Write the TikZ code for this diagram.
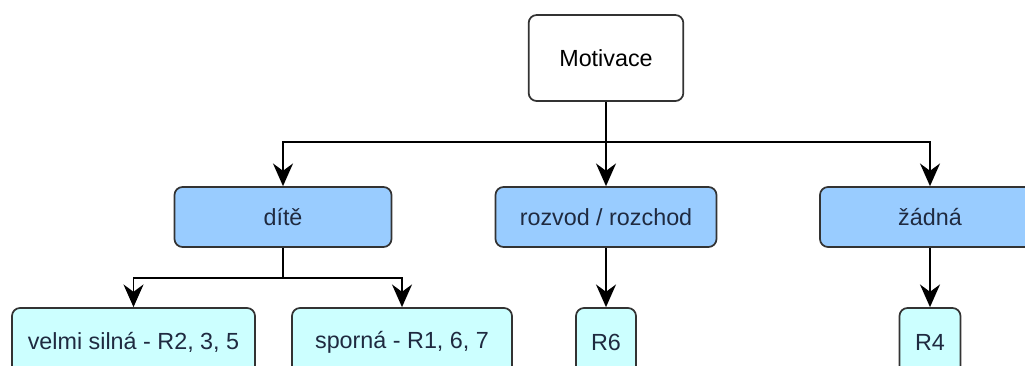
\documentclass[tikz,border=0pt]{standalone}
\usepackage{fontspec}
\setmainfont{Liberation Sans}
\usepackage{tikz}
\usepackage{xcolor}
\usetikzlibrary{arrows.meta}

\definecolor{boxline}{HTML}{333333}
\definecolor{levelblue}{HTML}{99CCFF}
\definecolor{levelcyan}{HTML}{CCFFFF}
\definecolor{boxtext}{HTML}{1F2A40}

\tikzset{
  rbox/.style={draw=boxline, line width=1.3pt, rounded corners=6pt, inner sep=0pt, align=center, font=\fontsize{17.5pt}{20pt}\selectfont},
  topbox/.style={rbox, fill=white, text=black, minimum width=116pt, minimum height=64.5pt},
  midbox/.style={rbox, fill=levelblue, text=boxtext, minimum height=45pt},
  leafbox/.style={rbox, fill=levelcyan, text=boxtext, minimum height=51pt},
  conn/.style={line width=1.3pt, draw=black},
  arr/.style={conn, -{Stealth[length=17pt, width=15pt, inset=5.5pt]}}
}

\begin{document}
\begin{tikzpicture}[x=0.75pt,y=0.75pt,yscale=-1,xscale=1]
%set diagram left start at 0, and has height of 365
\path[use as bounding box, clip] (0,0) rectangle (1025,365);

% Top node
\node[topbox] (motivace) at (606,58) {Motivace};

% Second level
\node[midbox, minimum width=162.75pt] (dite) at (283,217) {dítě};
\node[midbox, minimum width=165.75pt] (rozvod) at (606,217) {rozvod / rozchod};
\node[midbox, minimum width=165pt] (zadna) at (930,217) {žádná};

% Third level
\node[leafbox, minimum width=182.25pt] (silna) at (133.5,342) {velmi silná - R2, 3, 5};
\node[leafbox, minimum width=165pt] (sporna) at (402,342) {sporná - R1, 6, 7};
\node[leafbox, minimum width=45pt] (rsest) at (606,342) {R6};
\node[leafbox, minimum width=45.75pt] (rctyri) at (930,342) {R4};

% Connectors from the top
\coordinate (hub) at (606,142);
\draw[conn] (motivace.south) -- (hub);
\draw[arr] (hub) -| (dite.north);
\draw[arr] (hub) -- (rozvod.north);
\draw[arr] (hub) -| (zadna.north);

% Connectors below second level
\coordinate (split) at (283,278);
\draw[conn] (dite.south) -- (split);
\draw[arr] (split) -| (silna.north);
\draw[arr] (split) -| (sporna.north);
\draw[arr] (rozvod.south) -- (rsest.north);
\draw[arr] (zadna.south) -- (rctyri.north);

\end{tikzpicture}
\end{document}
